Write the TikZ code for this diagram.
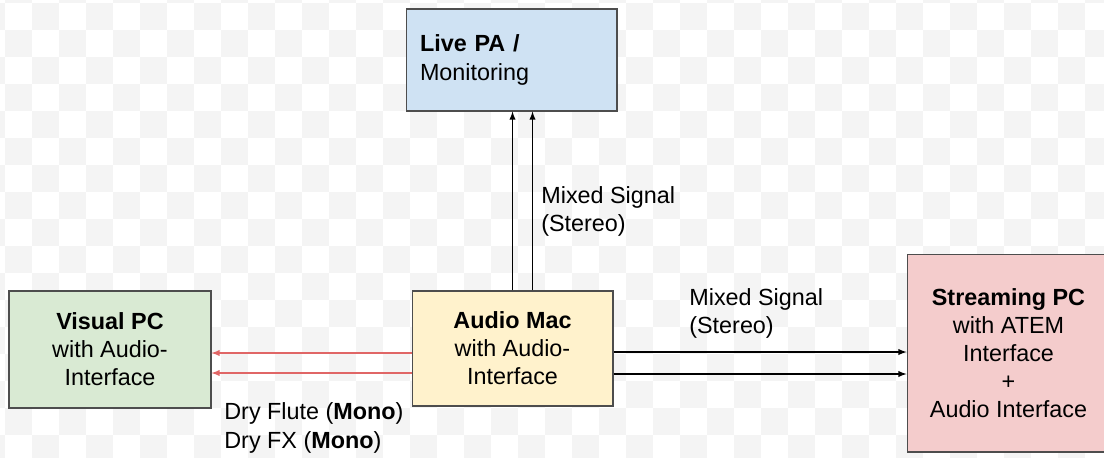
\documentclass[tikz,border=0pt]{standalone}
\usepackage{fontspec}
\setmainfont{Liberation Sans}
\definecolor{paBlue}{HTML}{CFE2F3}
\definecolor{macYellow}{HTML}{FFF2CC}
\definecolor{pcGreen}{HTML}{D9EAD3}
\definecolor{streamRed}{HTML}{F4CCCC}
\definecolor{boxLine}{HTML}{4D4D4D}
\definecolor{dryRed}{HTML}{E06666}
\definecolor{checker}{HTML}{F4F4F4}

\begin{document}
\begin{tikzpicture}[x=0.02cm, y=-0.02cm,
  font=\fontsize{13.3}{16}\selectfont,
  box/.style={draw=boxLine, line width=0.6pt, inner sep=0pt, align=center},
  signal/.style={-latex, line width=0.6pt, black},
  dry/.style={-latex, line width=0.6pt, dryRed},
  lbl/.style={align=left, inner sep=0pt, anchor=west}]

\useasboundingbox (0,0) rectangle (1104,457);
\fill[white] (0,0) rectangle (1104,457);
\foreach \k in {-1,...,20}
  \foreach \m in {-1,...,8} {
    \fill[checker] (32+54*\k, 3+54*\m) rectangle ++(27,27);
    \fill[checker] (5+54*\k, 30+54*\m) rectangle ++(27,27);
  }

\node (live) at (511.5, 60) [box, fill=paBlue, minimum width=4.22cm, minimum height=2.04cm, text width=3.66cm, align=left] {\textbf{Live PA /}\\Monitoring};
\node (audio) at (512.5, 348.5) [box, fill=macYellow, minimum width=4.02cm, minimum height=2.3cm] {\textbf{Audio Mac}\\with Audio-\\Interface};
\node (visual) at (110, 349.5) [box, fill=pcGreen, minimum width=4.04cm, minimum height=2.34cm] {\textbf{Visual PC}\\with Audio-\\Interface};
\node (stream) at (1008.5, 353) [box, fill=streamRed, minimum width=4.06cm, minimum height=3.96cm] {\textbf{Streaming PC}\\with ATEM\\Interface\\+\\Audio Interface};

\draw [signal] (audio.north) -- (audio.north |- live.south);
\draw [signal] ([xshift=0.4cm]audio.north) -- ([xshift=0.4cm]audio.north |- live.south);
\node (uplabel) at (541, 211) [lbl] {Mixed Signal\\(Stereo)};

\draw [signal] ([yshift=-0.07cm]audio.east) -- ([yshift=-0.07cm]audio.east -| stream.west);
\draw [signal] ([yshift=-0.51cm]audio.east) -- ([yshift=-0.51cm]audio.east -| stream.west);
\node (rightlabel) at (689, 313) [lbl] {Mixed Signal\\(Stereo)};

\draw [dry] ([yshift=-0.09cm]audio.west) -- ([yshift=-0.09cm]audio.west -| visual.east);
\draw [dry] ([yshift=-0.49cm]audio.west) -- ([yshift=-0.49cm]audio.west -| visual.east);
\node (drylabel) at (224, 428) [lbl] {Dry Flute (\textbf{Mono})\\Dry FX (\textbf{Mono})};

\end{tikzpicture}
\end{document}
